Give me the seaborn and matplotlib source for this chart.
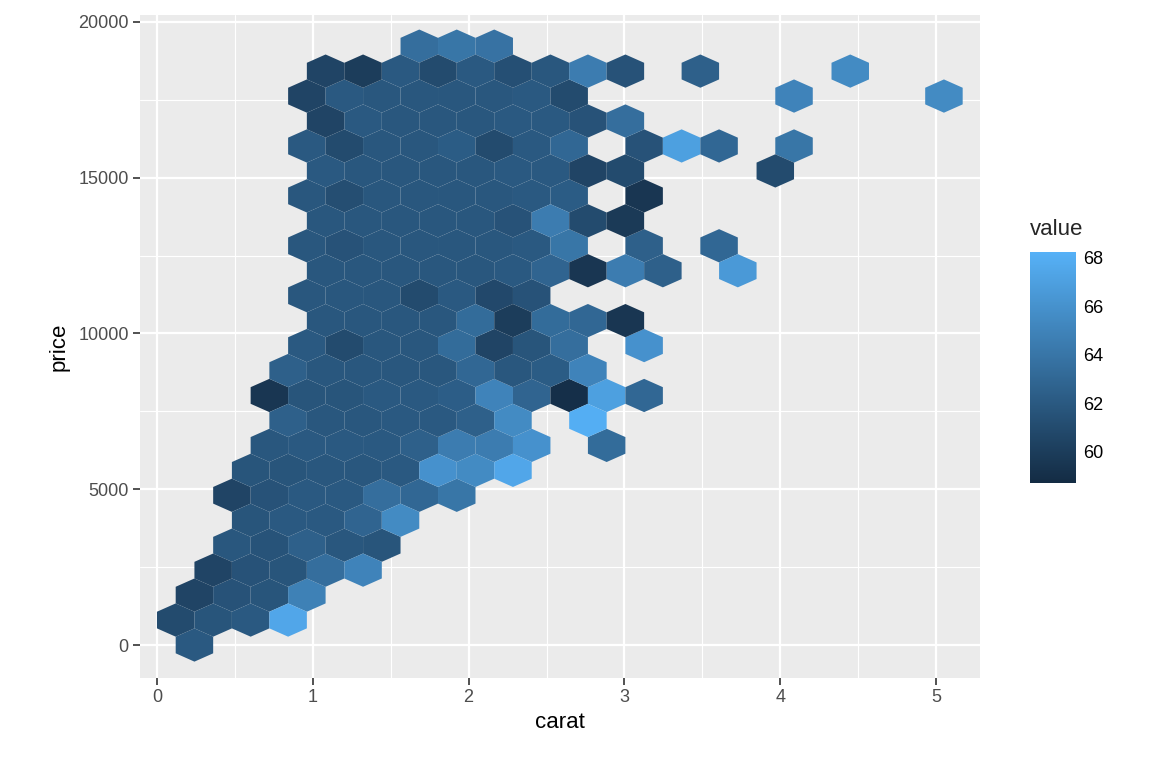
import numpy as np
import pandas as pd
import matplotlib
matplotlib.use("Agg")
import matplotlib.pyplot as plt
import seaborn as sns
from matplotlib.colors import LinearSegmentedColormap

# summarised depth per hex cell (carat, price bins)
row_price = [0, 801, 1602, 2403, 3204, 4005, 4806, 5607, 6408, 7209, 8010, 8811,
             9612, 10413, 11214, 12015, 12816, 13617, 14418, 15219, 16020, 16821,
             17622, 18423, 19224]
row_carat = [
    [0.24],
    [0.12, 0.36, 0.60, 0.84],
    [0.24, 0.48, 0.72, 0.96],
    [0.36, 0.60, 0.84, 1.08, 1.32],
    [0.48, 0.72, 0.96, 1.20, 1.44],
    [0.60, 0.84, 1.08, 1.32, 1.56],
    [0.48, 0.72, 0.96, 1.20, 1.44, 1.68, 1.92],
    [0.60, 0.84, 1.08, 1.32, 1.56, 1.80, 2.04, 2.28],
    [0.72, 0.96, 1.20, 1.44, 1.68, 1.92, 2.16, 2.40, 2.89],
    [0.84, 1.08, 1.32, 1.56, 1.80, 2.04, 2.28, 2.77],
    [0.72, 0.96, 1.20, 1.44, 1.68, 1.92, 2.16, 2.40, 2.65, 2.89, 3.13],
    [0.84, 1.08, 1.32, 1.56, 1.80, 2.04, 2.28, 2.52, 2.77],
    [0.96, 1.20, 1.44, 1.68, 1.92, 2.16, 2.40, 2.65, 3.13],
    [1.08, 1.32, 1.56, 1.80, 2.04, 2.28, 2.52, 2.77, 3.01],
    [0.96, 1.20, 1.44, 1.68, 1.92, 2.16, 2.40],
    [1.08, 1.32, 1.56, 1.80, 2.04, 2.28, 2.52, 2.77, 3.01, 3.25, 3.73],
    [0.96, 1.20, 1.44, 1.68, 1.92, 2.16, 2.40, 2.65, 3.13, 3.61],
    [1.08, 1.32, 1.56, 1.80, 2.04, 2.28, 2.52, 2.77, 3.01],
    [0.96, 1.20, 1.44, 1.68, 1.92, 2.16, 2.40, 2.65, 3.13],
    [1.08, 1.32, 1.56, 1.80, 2.04, 2.28, 2.52, 2.77, 3.01, 3.97],
    [0.96, 1.20, 1.44, 1.68, 1.92, 2.16, 2.40, 2.65, 3.13, 3.37, 3.61, 4.09],
    [1.08, 1.32, 1.56, 1.80, 2.04, 2.28, 2.52, 2.77, 3.01],
    [0.96, 1.20, 1.44, 1.68, 1.92, 2.16, 2.40, 2.65, 4.09, 5.05],
    [1.08, 1.32, 1.56, 1.80, 2.04, 2.28, 2.52, 2.77, 3.01, 3.49, 4.45],
    [1.68, 1.92, 2.16],
]
row_depth = [
    [62.0],
    [61.0, 61.7, 62.0, 67.5],
    [60.5, 61.5, 61.7, 64.8],
    [60.5, 61.5, 61.7, 63.5, 65.0],
    [61.8, 61.6, 62.5, 61.8, 61.7],
    [61.7, 62.0, 62.0, 62.8, 65.5],
    [60.5, 61.5, 62.0, 62.0, 63.5, 63.0, 64.0],
    [61.7, 61.7, 61.8, 61.8, 62.0, 66.0, 65.5, 67.5],
    [61.8, 62.0, 62.0, 62.0, 62.5, 64.5, 64.5, 66.0, 63.3],
    [62.5, 61.8, 61.8, 62.0, 62.0, 62.5, 65.5, 68.0],
    [59.5, 61.7, 61.7, 62.0, 62.0, 62.3, 65.0, 62.8, 59.0, 67.0, 63.0],
    [62.5, 61.8, 61.8, 61.8, 61.8, 63.0, 61.8, 62.2, 65.0],
    [62.0, 61.0, 61.8, 61.8, 63.3, 60.5, 61.7, 63.5, 66.0],
    [61.8, 61.8, 61.8, 61.8, 63.3, 60.0, 63.3, 63.0, 59.5],
    [61.8, 61.8, 61.8, 61.0, 62.0, 60.8, 61.5],
    [61.8, 61.8, 61.8, 61.8, 61.8, 62.0, 62.8, 59.5, 64.5, 62.5, 66.5],
    [61.8, 61.5, 61.8, 61.8, 61.8, 61.8, 62.0, 64.0, 62.5, 63.0],
    [61.8, 61.8, 61.8, 61.8, 61.8, 61.5, 64.5, 61.0, 59.8],
    [61.8, 61.2, 61.8, 61.8, 61.8, 61.8, 62.0, 62.2, 59.5],
    [62.0, 61.8, 61.8, 61.8, 61.8, 62.0, 62.0, 60.5, 61.0, 61.0],
    [62.0, 61.0, 61.8, 61.8, 62.2, 61.0, 62.0, 63.0, 61.5, 67.0, 63.0, 64.0],
    [60.5, 62.0, 61.8, 61.8, 61.8, 62.0, 62.0, 61.5, 63.5],
    [60.5, 62.0, 61.8, 61.8, 61.8, 61.8, 62.0, 61.0, 65.0, 65.5],
    [60.5, 60.0, 62.0, 61.0, 62.0, 61.3, 61.8, 64.5, 61.5, 62.5, 65.5],
    [63.5, 64.0, 63.8],
]

df = pd.DataFrame({
    "price": [p for p, cs in zip(row_price, row_carat) for _ in cs],
    "carat": [c for cs in row_carat for c in cs],
    "depth": [d for ds in row_depth for d in ds],
})

sns.set_theme(style="darkgrid", rc={
    "axes.facecolor": "#EBEBEB", "grid.color": "white",
    "axes.edgecolor": "#EBEBEB", "axes.linewidth": 0,
})
plt.rcParams["font.family"] = ["Liberation Sans", "DejaVu Sans"]

fig = plt.figure(figsize=(11.52, 7.68), dpi=100)
ax = fig.add_axes([0.1215, 0.1172, 0.7292, 0.8633])

cmap = LinearSegmentedColormap.from_list("gg", ["#132B43", "#56B1F7"])
nx, ny = 22, 12
hb = ax.hexbin(df["carat"], df["price"], C=df["depth"], reduce_C_function=np.mean,
               gridsize=(nx, ny), extent=(0, 0.2405 * nx, 0, 1602 * ny),
               cmap=cmap, vmin=58.7, vmax=68.25, linewidths=0, edgecolors="face",
               zorder=3)

ax.set_xlim(-0.109, 5.282)
ax.set_ylim(-1059, 20225)
ax.set_xticks([0, 1, 2, 3, 4, 5])
ax.set_yticks([0, 5000, 10000, 15000, 20000])
ax.set_xticks(np.arange(0.5, 5.5, 1), minor=True)
ax.set_yticks([2500, 7500, 12500, 17500], minor=True)
ax.grid(which="major", color="white", linewidth=1.6, zorder=0)
ax.grid(which="minor", color="white", linewidth=0.8, zorder=0)
ax.tick_params(which="major", length=5, width=1.2, color="#333333",
               labelcolor="#4D4D4D", labelsize=13, bottom=True, left=True, pad=3)
ax.tick_params(which="minor", length=0)
for s in ax.spines.values():
    s.set_visible(False)
ax.set_xlabel("carat", fontsize=16, color="black", labelpad=4)
ax.set_ylabel("price", fontsize=16, color="black", labelpad=6)

cax = fig.add_axes([0.894, 0.371, 0.040, 0.301])
cb = fig.colorbar(hb, cax=cax)
cb.outline.set_visible(False)
cb.set_ticks([60, 62, 64, 66, 68])
cax.tick_params(direction="in", color="white", length=9, width=1, left=True,
                right=True, labelsize=13, labelcolor="black", pad=5)
cax.grid(False)
cax.set_title("value", fontsize=16, loc="left", pad=12)

fig.savefig("out.png", dpi=100)
